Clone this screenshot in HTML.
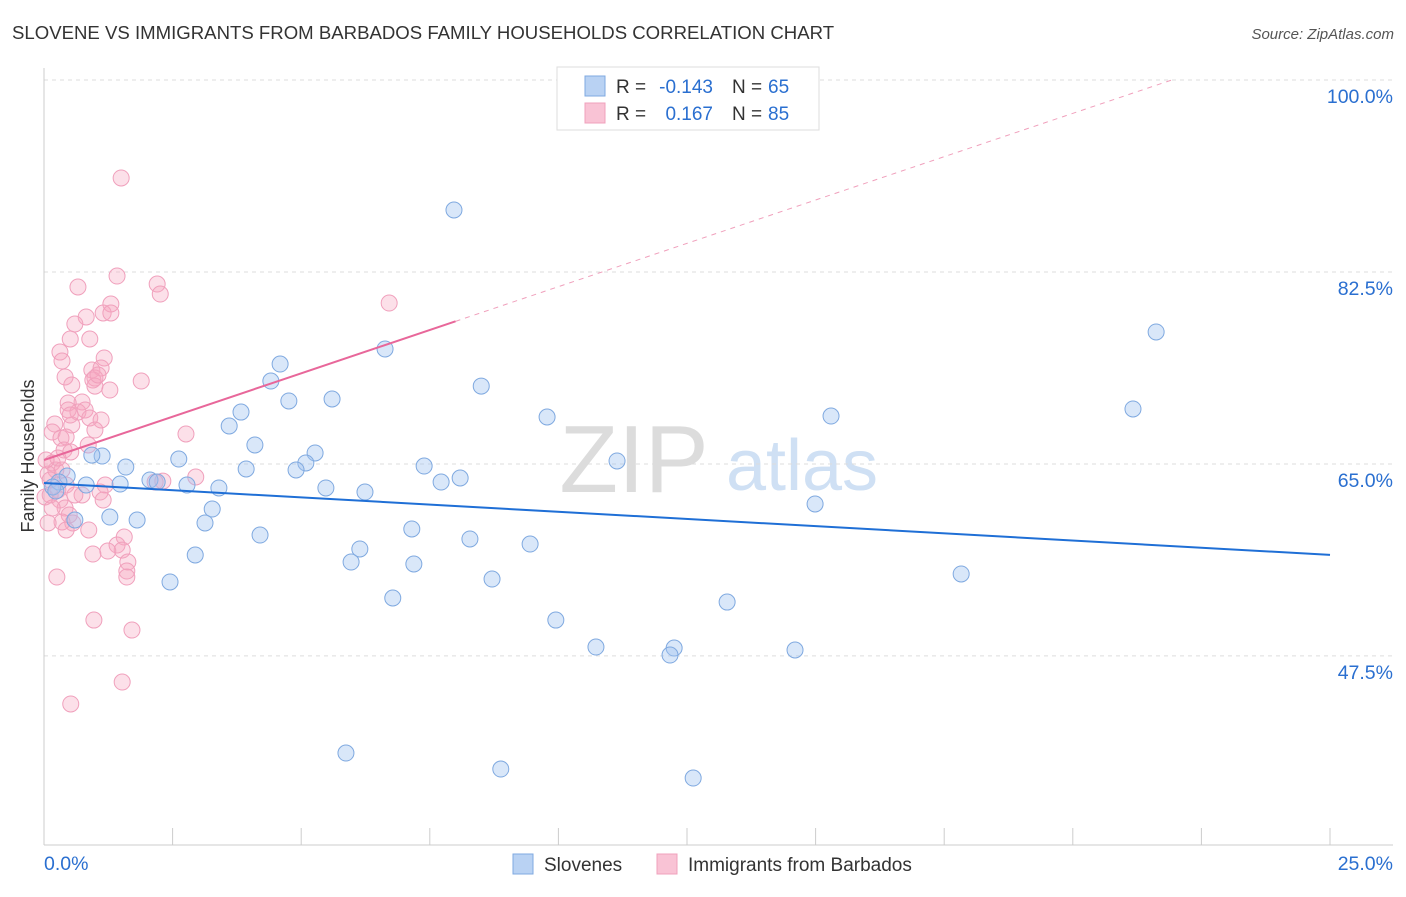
<!DOCTYPE html>
<html><head><meta charset="utf-8"><style>
body{margin:0;background:#fff;font-family:"Liberation Sans",sans-serif;}
svg text{font-family:"Liberation Sans",sans-serif;}
</style></head><body>
<svg id="chart" width="1406" height="892" xmlns="http://www.w3.org/2000/svg">
<text x="12" y="39" font-size="18.6" fill="#333">SLOVENE VS IMMIGRANTS FROM BARBADOS FAMILY HOUSEHOLDS CORRELATION CHART</text>
<text x="1394" y="39" font-size="15" fill="#555" text-anchor="end" font-style="italic">Source: ZipAtlas.com</text>
<text x="634" y="492" font-size="96" fill="#dcdcdc" text-anchor="middle" font-family="Liberation Serif, serif">ZIP</text>
<text x="802" y="490" font-size="72" fill="#cfe0f4" text-anchor="middle">atlas</text>
<g id="grid"></g>
<g id="axes"></g>
<g id="pts"></g>
<g id="lines"></g>
<text transform="translate(34,456) rotate(-90)" font-size="18" fill="#333" text-anchor="middle">Family Households</text>
<g>
<rect x="557" y="67" width="262" height="63" fill="#fff" stroke="#ddd"/>
<rect x="585" y="76" width="20" height="20" fill="#b9d2f3" stroke="#7fa9e0"/>
<rect x="585" y="103" width="20" height="20" fill="#f9c3d5" stroke="#f0a0bc"/>
<text x="616" y="93" font-size="19" fill="#333">R =</text>
<text x="713" y="93" font-size="19" fill="#2a6fd0" text-anchor="end">-0.143</text>
<text x="732" y="93" font-size="19" fill="#333">N =</text>
<text x="768" y="93" font-size="19" fill="#2a6fd0">65</text>
<text x="616" y="120" font-size="19" fill="#333">R =</text>
<text x="713" y="120" font-size="19" fill="#2a6fd0" text-anchor="end">0.167</text>
<text x="732" y="120" font-size="19" fill="#333">N =</text>
<text x="768" y="120" font-size="19" fill="#2a6fd0">85</text>
</g>
<g>
<rect x="513" y="854" width="20" height="20" fill="#b9d2f3" stroke="#7fa9e0"/>
<text x="544" y="871" font-size="19" fill="#333">Slovenes</text>
<rect x="657" y="854" width="20" height="20" fill="#f9c3d5" stroke="#f0a0bc"/>
<text x="688" y="871" font-size="19" fill="#333">Immigrants from Barbados</text>
</g>
</svg>
<script>
const yTicks=[100,82.5,65,47.5];
const yTickLabels=["100.0%","82.5%","65.0%","47.5%"];
const xTickLabels=["0.0%","25.0%"];
const blueX=[7.97,21.62,21.17,15.30,9.78,6.63,4.59,4.41,4.76,5.60,8.50,3.83,3.60,4.10,5.27,5.09,4.90,3.93,2.62,1.59,1.13,0.93,0.45,0.29,0.17,0.23,0.82,1.48,2.06,2.20,2.78,3.40,3.27,3.13,1.81,1.28,0.60,2.94,2.45,4.20,5.48,6.24,7.39,7.72,8.09,11.14,14.99,7.15,8.28,9.45,6.14,5.97,7.19,8.71,17.83,6.78,9.95,13.28,10.73,12.25,12.17,14.60,5.87,8.88,12.62];
const blueY=[88.15,77.03,70.01,69.37,69.28,75.48,74.11,72.56,70.74,70.92,72.10,69.73,68.46,66.73,66.00,65.09,64.45,64.54,65.45,64.72,65.72,65.81,63.90,63.35,62.90,62.53,63.08,63.17,63.54,63.35,63.08,62.81,60.89,59.62,59.89,60.16,59.89,56.70,54.24,58.52,62.81,62.44,64.81,63.35,63.72,65.27,61.35,59.07,58.16,57.70,57.25,56.06,55.88,54.51,54.97,52.78,50.77,52.41,48.31,48.22,47.58,48.04,38.65,37.19,36.37];
const pinkX=[1.50,1.42,2.20,2.26,0.66,1.30,1.15,1.30,0.82,0.60,6.71,0.89,0.51,0.31,1.17,0.35,0.93,1.11,0.41,1.89,0.99,0.95,0.54,0.99,0.74,0.47,0.66,0.80,0.47,0.89,1.11,0.21,0.54,2.76,0.99,0.16,0.33,0.43,0.39,0.52,0.16,0.23,0.08,2.95,2.31,1.19,0.43,0.27,0.12,0.02,0.74,1.09,1.15,0.31,0.41,0.49,0.56,0.35,0.08,0.87,1.56,1.42,1.52,1.24,0.95,1.63,1.61,1.61,0.25,0.97,1.71,1.52,0.52,2.16,0.35,0.12,0.27,1.28,1.05,0.04,0.16,0.60,0.43,0.51,0.86];
const pinkY=[91.07,82.13,81.40,80.49,81.13,79.58,78.76,78.76,78.40,77.76,79.67,76.39,76.39,75.20,74.66,74.38,73.56,73.75,72.93,72.56,72.83,72.65,72.20,72.10,70.65,70.56,69.73,69.92,69.92,69.19,69.01,68.64,68.55,67.73,68.09,67.91,67.36,67.46,66.27,66.09,65.09,64.45,64.08,63.81,63.44,63.08,63.08,62.62,62.17,61.99,62.17,62.44,61.71,61.71,60.98,60.35,59.62,59.71,59.62,58.98,58.34,57.61,57.15,57.06,56.79,56.06,55.24,54.69,54.69,50.77,49.86,45.12,43.12,63.35,64.45,63.54,65.54,71.74,73.11,65.36,60.98,62.17,58.98,69.46,66.73];
const blueTrend=[63.26,-0.262];
const pinkTrend=[65.36,1.58];
const X=v=>44+v*51.44, Y=v=>80+(100-v)*10.97;
const NS="http://www.w3.org/2000/svg";
function mk(tag,parent,attrs){const e=document.createElementNS(NS,tag);for(const k in attrs)e.setAttribute(k,attrs[k]);document.getElementById(parent).appendChild(e);return e;}
yTicks.forEach((t,i)=>{
 const g=mk('line','grid',{x1:44,x2:1393,y1:Y(t),y2:Y(t),stroke:'#ddd','stroke-dasharray':'4,4'});
 
 
 const tx=mk('text','grid',{x:1393,y:Y(t)+23,'font-size':19.5,fill:'#2a6fd0','text-anchor':'end'});
 tx.textContent=yTickLabels[i];
 
 
});
let a=mk('line','axes',{x1:44,x2:44,y1:68,y2:845,stroke:'#ccc'});


a=mk('line','axes',{x1:44,x2:1393,y1:845,y2:845,stroke:'#ccc'});


for(let k=0;k<=10;k++){const t=mk('line','axes',{x1:X(k*2.5),x2:X(k*2.5),y1:828,y2:845,stroke:'#ccc'});
 
 }
[0,25].forEach((v,i)=>{const t=mk('text','axes',{x:i?1393:44,y:870,'font-size':19.5,fill:'#2a6fd0','text-anchor':i?'end':'start'});
 t.textContent=xTickLabels[i];
 
 });
pinkX.forEach((x,i)=>{const c=mk('circle','pts',{cx:X(x),cy:Y(pinkY[i]),r:8,fill:'rgba(245,165,192,0.35)',stroke:'#f0a0bc','stroke-width':1});
 
 });
blueX.forEach((x,i)=>{const c=mk('circle','pts',{cx:X(x),cy:Y(blueY[i]),r:8,fill:'rgba(160,196,240,0.4)',stroke:'#7fa9e0','stroke-width':1});
 
 });
let l=mk('line','lines',{x1:X(0),y1:Y(blueTrend[0]),x2:X(25),y2:Y(blueTrend[0]+25*blueTrend[1]),stroke:'#1f6fd6','stroke-width':2});


const pEnd=(100-pinkTrend[0])/pinkTrend[1];
l=mk('line','lines',{x1:X(8),y1:Y(pinkTrend[0]+8*pinkTrend[1]),x2:X(pEnd),y2:Y(100),stroke:'#f0a0bc','stroke-width':1,'stroke-dasharray':'5,5'});


l=mk('line','lines',{x1:X(0),y1:Y(pinkTrend[0]),x2:X(8),y2:Y(pinkTrend[0]+8*pinkTrend[1]),stroke:'#e8679a','stroke-width':2});


</script>
</body></html>
